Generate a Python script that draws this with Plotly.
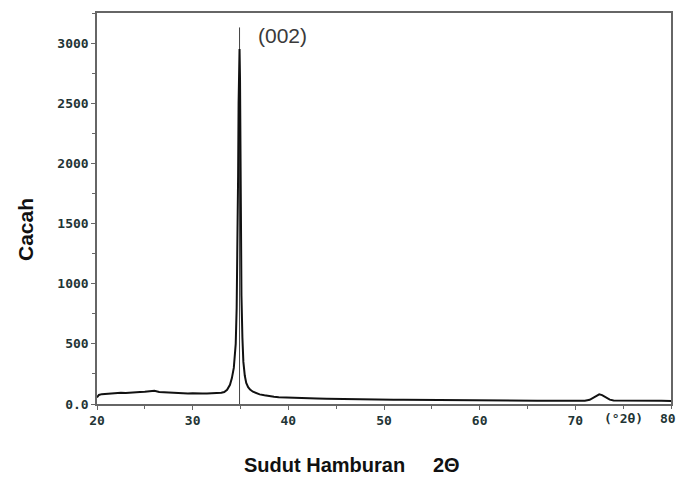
import plotly.graph_objects as go

two_theta = [20.0, 20.2, 20.5, 21.0, 21.5, 22.0, 22.5, 23.0, 23.5, 24.0, 24.5, 25.0, 25.5, 26.0, 26.5,
             27.0, 27.5, 28.0, 28.5, 29.0, 29.5, 30.0, 30.5, 31.0, 31.5, 32.0, 32.5, 33.0, 33.3, 33.6,
             33.9, 34.1, 34.3, 34.5, 34.6, 34.7, 34.75, 34.8, 34.85, 34.9, 34.95, 35.0, 35.05, 35.1,
             35.2, 35.3, 35.45, 35.6, 35.8, 36.0, 36.3, 36.6, 37.0, 37.5, 38.0, 38.5, 39.0, 40.0,
             41.0, 42.0, 43.0, 44.0, 45.0, 46.0, 47.0, 48.0, 49.0, 50.0, 51.0, 52.0, 53.0, 54.0,
             55.0, 56.0, 57.0, 58.0, 59.0, 60.0, 61.0, 62.0, 63.0, 64.0, 65.0, 66.0, 67.0, 68.0,
             69.0, 70.0, 71.0, 71.5, 72.0, 72.5, 72.8, 73.2, 73.6, 74.0, 75.0, 76.0, 77.0, 78.0,
             79.0, 80.0]
counts = [55, 75, 82, 86, 90, 88, 93, 92, 96, 97, 99, 101, 104, 110, 100,
          98, 94, 93, 89, 90, 88, 90, 86, 88, 87, 89, 88, 93, 100, 118,
          160, 215, 300, 500, 800, 1400, 1900, 2500, 2800, 2950, 2700, 2000, 1400, 900,
          550, 350, 235, 175, 140, 120, 102, 90, 80, 72, 64, 60, 56, 52,
          49, 47, 45, 43, 41, 41, 39, 38, 37, 36, 35, 35, 34, 33,
          33, 32, 31, 31, 30, 30, 29, 29, 28, 28, 28, 27, 27, 27,
          27, 27, 28, 35, 55, 80, 74, 52, 36, 30, 28, 27, 27, 26,
          26, 25]

# Reference stick (002)
stick_x = [34.9, 34.9]
stick_y = [0, 3130]

y_ticks = [0, 500, 1000, 1500, 2000, 2500, 3000]
y_tick_text = ["0.0", "500", "1000", "1500", "2000", "2500", "3000"]
x_ticks = [20, 30, 40, 50, 60, 70]
x_tick_text = ["20", "30", "40", "50", "60", "70"]

tick_font = dict(family="DejaVu Sans Mono", size=13, color="#1f3535", weight="bold")
title_font = dict(family="Liberation Sans", size=20, color="#111111", weight="bold")

W, H = 676, 477
L, R, T, B = 97, 5, 13, 73

fig = go.Figure()
fig.add_trace(go.Scatter(x=stick_x, y=stick_y, mode="lines",
                         line=dict(color="#444444", width=1), showlegend=False))
fig.add_trace(go.Scatter(x=two_theta, y=counts, mode="lines",
                         line=dict(color="#111111", width=2), showlegend=False))

fig.add_annotation(x=36.6, y=3060, text="(002)", showarrow=False, xanchor="left",
                   yanchor="middle", font=dict(family="Liberation Sans", size=21, color="#3a3a3a"))
fig.add_annotation(x=75, y=0, yref="y", text="(°2θ)", showarrow=False, xanchor="center",
                   yanchor="top", yshift=-5, font=tick_font)
# last x tick label sits at the window edge
fig.add_annotation(x=80, y=0, yref="y", text="80", showarrow=False, xanchor="center",
                   yanchor="top", yshift=-5, xshift=-3, font=tick_font)

# axis titles placed as in the reference
fig.add_annotation(xref="paper", yref="paper",
                   x=(25 - L) / (W - L - R), y=(H - B - 230) / (H - T - B),
                   text="Cacah", textangle=-90, showarrow=False,
                   xanchor="center", yanchor="middle", font=dict(title_font, size=21))
fig.add_annotation(xref="paper", yref="paper",
                   x=(352 - L) / (W - L - R), y=-(465 - (H - B)) / (H - T - B),
                   text="Sudut Hamburan     2Θ", showarrow=False,
                   xanchor="center", yanchor="middle", font=title_font)

fig.update_layout(
    width=W, height=H,
    margin=dict(l=L, r=R, t=T, b=B, autoexpand=False),
    plot_bgcolor="white", paper_bgcolor="white",
    xaxis=dict(range=[20, 80], tickvals=x_ticks, ticktext=x_tick_text, automargin=False,
               ticks="outside", ticklen=4, tickcolor="#666666", tickfont=tick_font,
               showline=True, linecolor="#666666", linewidth=1.5, mirror=True,
               showgrid=False, zeroline=False,
               minor=dict(dtick=5, tick0=20, ticks="outside", ticklen=3, tickcolor="#666666")),
    yaxis=dict(range=[0, 3250], tickvals=y_ticks, ticktext=y_tick_text, automargin=False,
               ticks="outside", ticklen=4, tickcolor="#666666", tickfont=tick_font,
               showline=True, linecolor="#666666", linewidth=1.5, mirror=True,
               showgrid=False, zeroline=False,
               minor=dict(dtick=250, tick0=0, ticks="outside", ticklen=3, tickcolor="#666666")),
)

fig.write_html("out.html", config={"displayModeBar": False},
               post_script="document.body.style.margin='0';")
